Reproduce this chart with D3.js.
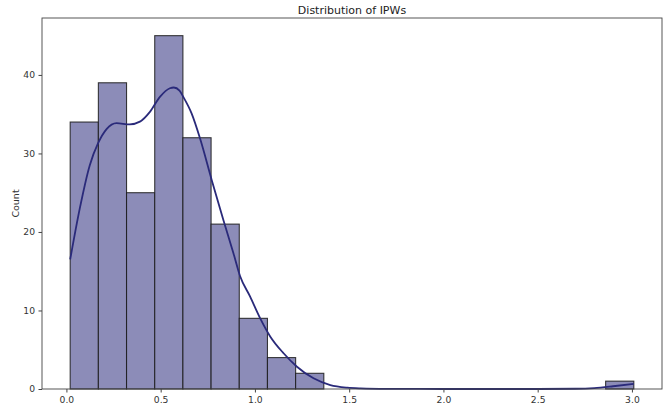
<!DOCTYPE html>
<html><head><meta charset="utf-8">
<script src="https://cdn.jsdelivr.net/npm/d3@7"></script>
<style>body{margin:0;background:#fff}svg{display:block}text{font-family:"DejaVu Sans",sans-serif}</style>
</head><body><svg id="c" width="665" height="407"></svg>
<script>
const title = "Distribution of IPWs";
const yLabel = "Count";
const binStart = 0.02, binEnd = 3.01, nBins = 20;
const counts = [34, 39, 25, 45, 32, 21, 9, 4, 2, 0, 0, 0, 0, 0, 0, 0, 0, 0, 0, 1];
const xTicks = [0.0, 0.5, 1.0, 1.5, 2.0, 2.5, 3.0];
const yTicks = [0, 10, 20, 30, 40];
// KDE curve (in count units)
const kdeX = [0.02, 0.071, 0.124, 0.168, 0.213, 0.266, 0.336, 0.39, 0.443, 0.496, 0.549, 0.57, 0.6, 0.62, 0.664, 0.709, 0.771, 0.833, 0.886, 0.921, 0.974, 1.028, 1.081, 1.152, 1.223, 1.311, 1.4, 1.49, 1.56, 1.7, 2.0, 2.5, 2.7, 2.8, 2.9, 3.01];
const kdeY = [16.5, 23.0, 28.5, 31.3, 33.1, 33.85, 33.7, 34.05, 35.3, 37.2, 38.3, 38.4, 38.0, 37.2, 35.1, 31.9, 26.6, 21.5, 17.3, 14.4, 11.8, 9.0, 6.7, 4.55, 2.84, 1.36, 0.5, 0.17, 0.08, 0.02, 0.0, 0.0, 0.03, 0.12, 0.35, 0.65];

const svg = d3.select("#c");
const L = 42, R = 662, T = 18, B = 389;
const w = (binEnd - binStart) / nBins;
const span = binEnd - binStart;
const x = d3.scaleLinear().domain([binStart - span*0.05, binEnd + span*0.05]).range([L, R]);
const yMax = d3.max(counts) * 1.05;
const y = d3.scaleLinear().domain([0, yMax]).range([B, T]);

const bins = counts.map((c, i) => ({x0: binStart + i*w, x1: binStart + (i+1)*w, c}));
svg.append("g").selectAll("rect").data(bins.filter(d => d.c > 0)).join("rect")
  .attr("x", d => x(d.x0)).attr("width", d => x(d.x1) - x(d.x0))
  .attr("y", d => y(d.c)).attr("height", d => y(0) - y(d.c))
  .attr("fill", "#8c8cb8").attr("stroke", "#1a1a1a").attr("stroke-opacity", 0.85).attr("stroke-width", 1.1);

const pts = kdeX.map((v, i) => [v, kdeY[i]]);
svg.append("path").datum(pts)
  .attr("d", d3.line().x(d => x(d[0])).y(d => y(d[1])).curve(d3.curveMonotoneX))
  .attr("fill", "none").attr("stroke", "#2a2a7a").attr("stroke-width", 1.8);

// frame
svg.append("rect").attr("x", L).attr("y", T).attr("width", R-L).attr("height", B-T)
  .attr("fill", "none").attr("stroke", "#444").attr("stroke-width", 0.9);

const xa = svg.append("g").attr("transform", `translate(0,${B})`)
  .call(d3.axisBottom(x).tickValues(xTicks).tickFormat(d3.format(".1f")).tickSize(3.5).tickPadding(3.5));
const ya = svg.append("g").attr("transform", `translate(${L},0)`)
  .call(d3.axisLeft(y).tickValues(yTicks).tickSize(3.5).tickPadding(3.5));
[xa, ya].forEach(a => {
  a.select(".domain").remove();
  a.selectAll("line").attr("stroke", "#444");
  a.selectAll("text").attr("font-size", 9.2).attr("fill", "#333").attr("font-family", "DejaVu Sans");
});

svg.append("text").attr("x", (L+R)/2).attr("y", 13.5).attr("text-anchor", "middle")
  .attr("font-size", 11).attr("fill", "#222").text(title);
svg.append("text").attr("transform", `translate(19,${(T+B)/2}) rotate(-90)`).attr("text-anchor", "middle")
  .attr("font-size", 9.5).attr("fill", "#333").text(yLabel);
</script></body></html>
